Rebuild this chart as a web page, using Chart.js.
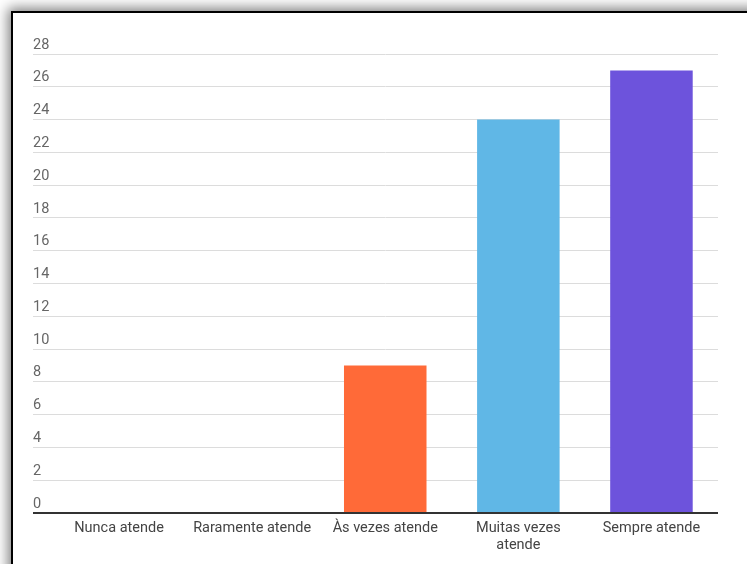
<!DOCTYPE html>
<html>
<head>
<meta charset="utf-8">
<script src="https://cdn.jsdelivr.net/npm/chart.js@4/dist/chart.umd.min.js"></script>
<style>
  html, body { margin: 0; padding: 0; background: #fff; overflow: hidden; }
  #frame {
    position: absolute; left: 11px; top: 11px; width: 800px; height: 620px;
    border: 2px solid #000; background: #fff;
    box-shadow: 0 0 12px 3px rgba(0,0,0,0.5);
  }
  #wrap { position: absolute; left: 0; top: 0; width: 747px; height: 564px; }
</style>
</head>
<body>
<div id="frame"></div>
<div id="wrap"><canvas id="c" width="747" height="564"></canvas></div>
<script>
// Respostas por frequência de atendimento
const categories = ['Nunca atende', 'Raramente atende', 'Às vezes atende', ['Muitas vezes', 'atende'], 'Sempre atende'];
const counts = [0, 0, 9, 24, 27];
const barColors = ['#ff6a38', '#ff6a38', '#ff6a38', '#60b7e6', '#6d53dc'];
const yTicks = [0, 2, 4, 6, 8, 10, 12, 14, 16, 18, 20, 22, 24, 26, 28];

new Chart(document.getElementById('c'), {
  type: 'bar',
  data: {
    labels: categories,
    datasets: [{
      data: counts,
      backgroundColor: barColors,
      borderWidth: 0,
      barPercentage: 0.62,
      categoryPercentage: 1.0
    }]
  },
  options: {
    responsive: false,
    animation: false,
    devicePixelRatio: 1,
    layout: { padding: { left: 33, right: 29, top: 54, bottom: 0 } },
    plugins: { legend: { display: false }, tooltip: { enabled: false } },
    scales: {
      x: {
        grid: { display: false, drawTicks: false },
        border: { display: false },
        ticks: {
          color: '#444',
          font: { family: 'Roboto', size: 14.5, lineHeight: 1.16 },
          padding: 7,
          maxRotation: 0,
          autoSkip: false
        },
        afterFit: s => { s.height = 51; }
      },
      y: {
        min: 0,
        max: 28,
        afterBuildTicks: s => { s.ticks = yTicks.map(v => ({ value: v })); },
        afterFit: s => { s.width = 19.5; },
        border: { display: false },
        grid: {
          drawTicks: true,
          tickLength: 19.5,
          color: ctx => ctx.tick && ctx.tick.value === 0 ? '#333' : '#dcdcdc',
          lineWidth: ctx => ctx.tick && ctx.tick.value === 0 ? 2 : 1
        },
        ticks: {
          crossAlign: 'far',
          padding: 0,
          labelOffset: -9,
          color: '#666',
          font: { family: 'Roboto', size: 14.5 }
        }
      }
    }
  }
});
</script>
</body>
</html>
